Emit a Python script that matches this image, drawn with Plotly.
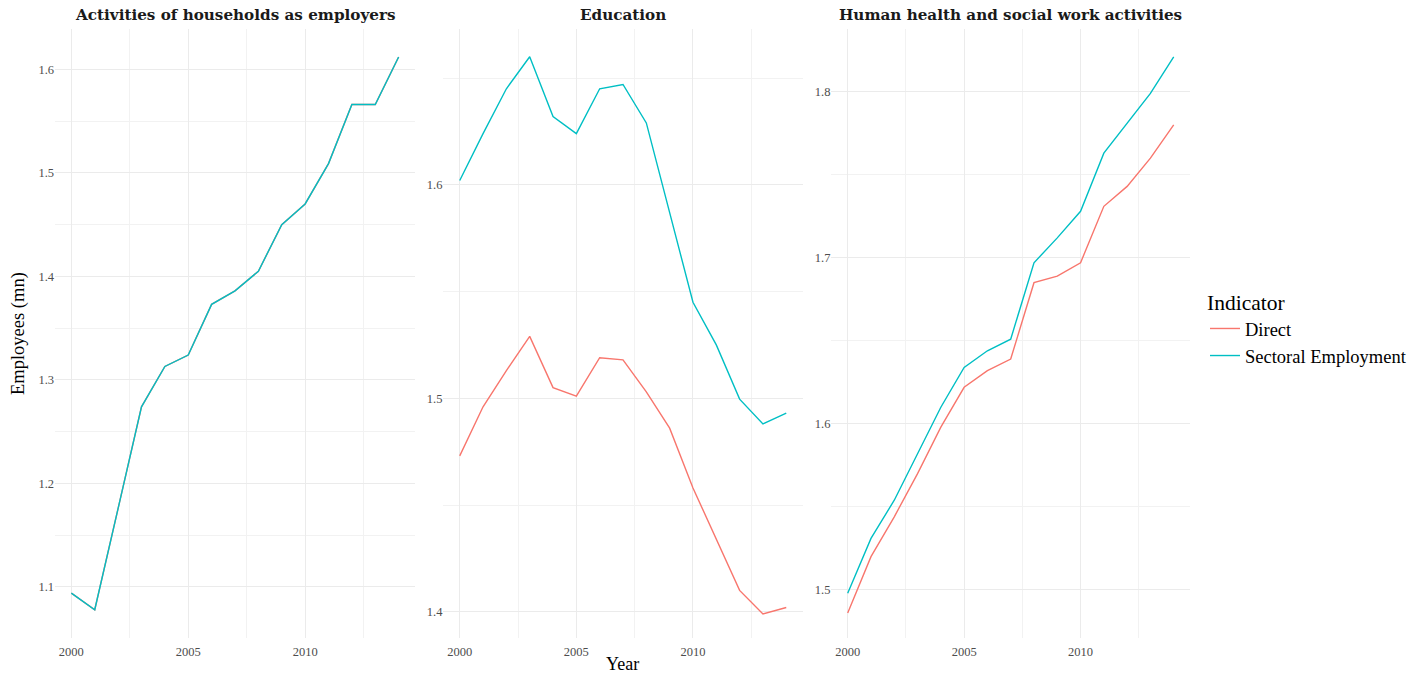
import plotly.graph_objects as go
from plotly.subplots import make_subplots

years = list(range(2000, 2015))

panels = ["Activities of households as employers", "Education",
          "Human health and social work activities"]

households_direct = [1.094, 1.078, 1.176, 1.274, 1.313, 1.324, 1.373, 1.386,
                     1.405, 1.450, 1.470, 1.509, 1.566, 1.566, 1.612]
households_sectoral = [1.094, 1.078, 1.176, 1.274, 1.313, 1.324, 1.373, 1.386,
                       1.405, 1.450, 1.470, 1.509, 1.566, 1.566, 1.612]

education_direct = [1.473, 1.496, 1.513, 1.529, 1.505, 1.501, 1.519, 1.518,
                    1.503, 1.486, 1.458, 1.434, 1.410, 1.399, 1.402]
education_sectoral = [1.602, 1.624, 1.645, 1.660, 1.632, 1.624, 1.645, 1.647,
                      1.629, 1.587, 1.545, 1.525, 1.4996, 1.488, 1.493]

health_direct = [1.486, 1.520, 1.544, 1.570, 1.598, 1.622, 1.632, 1.639,
                 1.685, 1.689, 1.697, 1.731, 1.743, 1.760, 1.780]
health_sectoral = [1.498, 1.531, 1.554, 1.582, 1.610, 1.634, 1.644, 1.651,
                   1.697, 1.712, 1.728, 1.763, 1.781, 1.799, 1.821]

series = [
    (households_direct, households_sectoral),
    (education_direct, education_sectoral),
    (health_direct, health_sectoral),
]
y_ranges = [[1.0507, 1.639], [1.3877, 1.673], [1.471, 1.8378]]

RED = "#F8766D"
TEAL = "#00BFC4"
FONT = "Liberation Serif"
TITLE_FONT = "DejaVu Serif"

W, H = 1421, 674


def px_x(x):
    return x / W


def px_y(y):
    return 1 - y / H


fig = make_subplots(rows=1, cols=3)

for i, (direct, sectoral) in enumerate(series):
    fig.add_trace(go.Scatter(x=years, y=direct, mode="lines", name="Direct",
                             line=dict(color=RED, width=1.4),
                             legendgroup="d", showlegend=(i == 1)),
                  row=1, col=i + 1)
    fig.add_trace(go.Scatter(x=years, y=sectoral, mode="lines",
                             name="Sectoral Employment",
                             line=dict(color=TEAL, width=1.4),
                             legendgroup="s", showlegend=(i == 1)),
                  row=1, col=i + 1)

x_dom = [(55, 415), (443.4, 802.6), (831.4, 1190)]
y_dom = [px_y(638), px_y(29)]

for i in range(3):
    a, b = x_dom[i]
    fig.update_xaxes(domain=[px_x(a), px_x(b)], range=[1999.3, 2014.7],
                     tickvals=[2000, 2005, 2010], showgrid=True,
                     gridcolor="#EBEBEB", gridwidth=1.1, zeroline=False,
                     showline=False, ticks="", ticklabelstandoff=4,
                     tickfont=dict(family=FONT, size=12.5, color="#4D4D4D"),
                     minor=dict(tickvals=[2002.5, 2007.5, 2012.5], showgrid=True,
                                gridcolor="#F2F2F2", gridwidth=0.9),
                     row=1, col=i + 1)
    fig.update_yaxes(domain=y_dom, range=y_ranges[i], dtick=0.1,
                     tickformat=".1f", showgrid=True, gridcolor="#EBEBEB",
                     gridwidth=1.1, zeroline=False, showline=False, ticks="",
                     tickfont=dict(family=FONT, size=12.5, color="#4D4D4D"),
                     minor=dict(dtick=0.05, showgrid=True, gridcolor="#F2F2F2",
                                gridwidth=0.9),
                     row=1, col=i + 1)
    fig.add_annotation(text="<b>" + panels[i] + "</b>", x=px_x((a + b) / 2),
                       y=px_y(15), xref="paper", yref="paper",
                       showarrow=False, xanchor="center", yanchor="middle",
                       font=dict(family=TITLE_FONT, size=15.2, color="#1A1A1A"))

fig.add_annotation(text="Year", x=px_x(622), y=px_y(664), xref="paper",
                   yref="paper", showarrow=False, xanchor="center",
                   yanchor="middle", font=dict(family=FONT, size=18, color="black"))
fig.add_annotation(text="Employees (mn)", x=px_x(18), y=px_y(334),
                   xref="paper", yref="paper", showarrow=False, textangle=-90,
                   xanchor="center", yanchor="middle",
                   font=dict(family=FONT, size=18.5, color="black"))

fig.update_layout(
    width=W, height=H,
    margin=dict(l=0, r=0, t=0, b=0),
    plot_bgcolor="white", paper_bgcolor="white",
    font=dict(family=FONT),
    legend=dict(x=px_x(1205), y=px_y(282), xanchor="left", yanchor="top",
                title=dict(text="Indicator", font=dict(family=FONT, size=21.5)),
                font=dict(family=FONT, size=18.5, color="black"),
                itemwidth=30, tracegroupgap=0, bgcolor="rgba(0,0,0,0)"),
)

# drop the default page margin so the figure fills the window exactly
fig.write_html("out.html", config={"displayModeBar": False},
               post_script="document.body.style.margin='0';")
